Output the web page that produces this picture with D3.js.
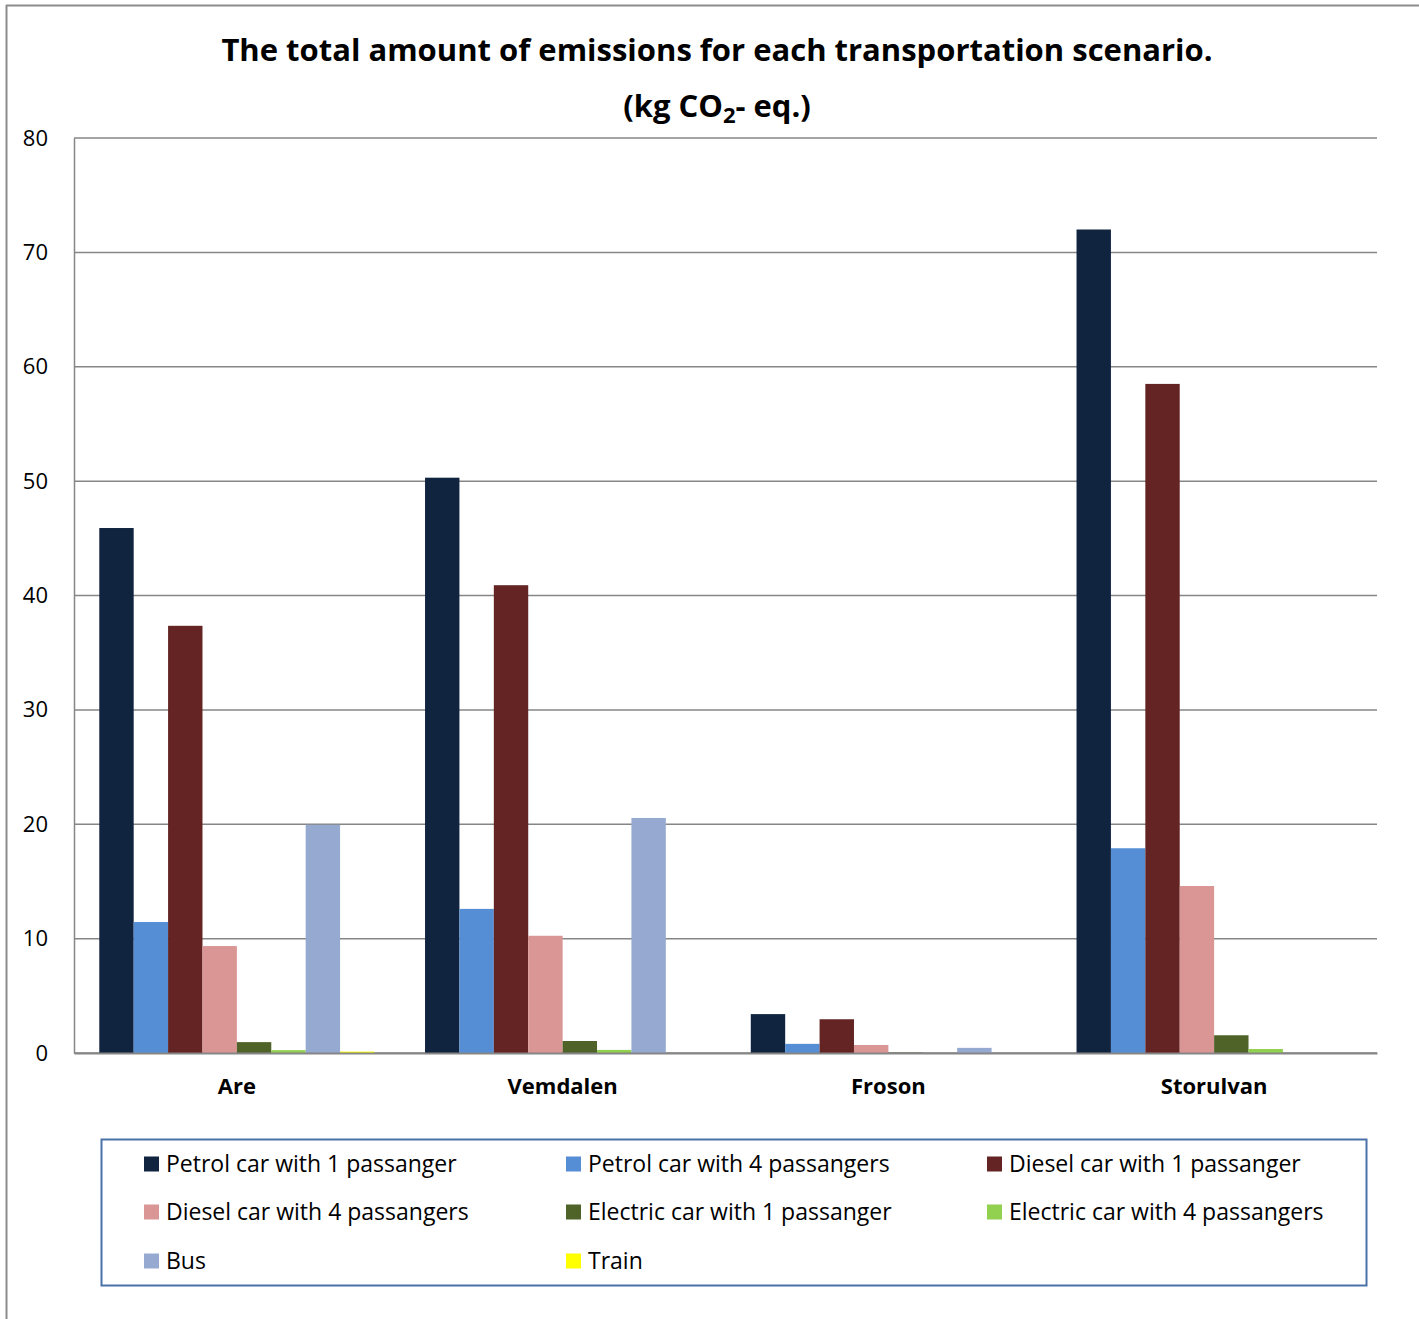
<!DOCTYPE html>
<html><head><meta charset="utf-8">
<script src="https://cdn.jsdelivr.net/npm/d3@7"></script>
<style>body{margin:0;background:#fff}svg{display:block}</style>
</head><body>
<svg id="c" width="1419" height="1319"></svg>
<script>
const categories = ["Are", "Vemdalen", "Froson", "Storulvan"];
const seriesNames = ["Petrol car with 1 passanger", "Petrol car with 4 passangers", "Diesel car with 1 passanger",
  "Diesel car with 4 passangers", "Electric car with 1 passanger", "Electric car with 4 passangers", "Bus", "Train"];
const seriesColors = ["#10243F", "#558ED5", "#632423", "#D99694", "#4F6228", "#92D050", "#95A9D1", "#FFFF00"];
const petrol1 = [45.9, 50.3, 3.4, 72.0];
const petrol4 = [11.45, 12.6, 0.8, 17.9];
const diesel1 = [37.35, 40.9, 2.95, 58.5];
const diesel4 = [9.35, 10.25, 0.7, 14.6];
const electric1 = [0.95, 1.05, 0.03, 1.55];
const electric4 = [0.25, 0.27, 0.0, 0.35];
const bus = [19.95, 20.55, 0.45, 0];
const train = [0.12, 0, 0, 0];
const yTicks = [0, 10, 20, 30, 40, 50, 60, 70, 80];

const seriesValues = [petrol1, petrol4, diesel1, diesel4, electric1, electric4, bus, train];
const font = "'Open Sans', Lato, sans-serif";
const svg = d3.select("#c");

// outer frame (top + left)
svg.append("line").attr("x1", 6).attr("x2", 1419).attr("y1", 5.5).attr("y2", 5.5).attr("stroke", "#8c8c8c").attr("stroke-width", 2);
svg.append("line").attr("x1", 6.5).attr("x2", 6.5).attr("y1", 5).attr("y2", 1319).attr("stroke", "#8c8c8c").attr("stroke-width", 2);

const L = 74, R = 1377, T = 138, B = 1053;
const x = d3.scaleBand().domain(categories).range([L, R]).paddingInner(0).paddingOuter(0);
const xs = d3.scaleBand().domain(d3.range(seriesNames.length)).range([0, x.bandwidth()]).paddingInner(0).paddingOuter(0.735);
const y = d3.scaleLinear().domain([0, 80]).range([B, T]);

// gridlines
svg.append("g").selectAll("line").data(yTicks).join("line")
  .attr("x1", L).attr("x2", R).attr("y1", d => y(d)).attr("y2", d => y(d))
  .attr("stroke", "#868686").attr("stroke-width", 1.5);

// y axis
const yAxis = svg.append("g").attr("transform", `translate(${L},0)`)
  .call(d3.axisLeft(y).tickValues(yTicks).tickSize(0).tickPadding(26));
yAxis.select(".domain").attr("stroke", "#868686").attr("stroke-width", 1.5);
yAxis.selectAll("text").attr("font-family", font).attr("font-size", 22).attr("fill", "#000");

// bars
const groups = svg.append("g").selectAll("g").data(categories).join("g")
  .attr("transform", d => `translate(${x(d)},0)`);
groups.selectAll("rect").data((c, ci) => seriesValues.map((s, si) => ({si, v: s[ci]}))).join("rect")
  .attr("x", d => xs(d.si)).attr("width", xs.bandwidth())
  .attr("y", d => y(d.v)).attr("height", d => y(0) - y(d.v))
  .attr("fill", d => seriesColors[d.si]);

// x axis
const xAxis = svg.append("g").attr("transform", `translate(0,${B})`)
  .call(d3.axisBottom(x).tickSize(0).tickPadding(25));
xAxis.select(".domain").attr("stroke", "#868686").attr("stroke-width", 2);
xAxis.selectAll("text").attr("font-family", font).attr("font-size", 22).attr("font-weight", "bold").attr("fill", "#000");

// title
svg.append("text").attr("x", 717).attr("y", 61).attr("text-anchor", "middle")
  .attr("font-family", font).attr("font-size", 31).attr("font-weight", "bold")
  .text("The total amount of emissions for each transportation scenario.");
const t2 = svg.append("text").attr("x", 717).attr("y", 117).attr("text-anchor", "middle")
  .attr("font-family", font).attr("font-size", 31).attr("font-weight", "bold");
t2.append("tspan").text("(kg CO");
t2.append("tspan").attr("font-size", 22).attr("dy", 6).text("2");
t2.append("tspan").attr("dy", -6).text("- eq.)");

// legend
svg.append("rect").attr("x", 101.5).attr("y", 1139.5).attr("width", 1265).attr("height", 146)
  .attr("fill", "none").attr("stroke", "#4A72A8").attr("stroke-width", 2);
const colX = [144, 566, 987], rowY = [1164, 1212, 1261];
const lg = svg.append("g").selectAll("g").data(seriesNames).join("g")
  .attr("transform", (d, i) => `translate(${colX[i % 3]},${rowY[Math.floor(i / 3)]})`);
lg.append("rect").attr("x", 0).attr("y", -7.5).attr("width", 15).attr("height", 15)
  .attr("fill", (d, i) => seriesColors[i]);
lg.append("text").attr("x", 22).attr("y", 0).attr("dy", "0.35em")
  .attr("font-family", font).attr("font-size", 23).text(d => d);
</script>
</body></html>
